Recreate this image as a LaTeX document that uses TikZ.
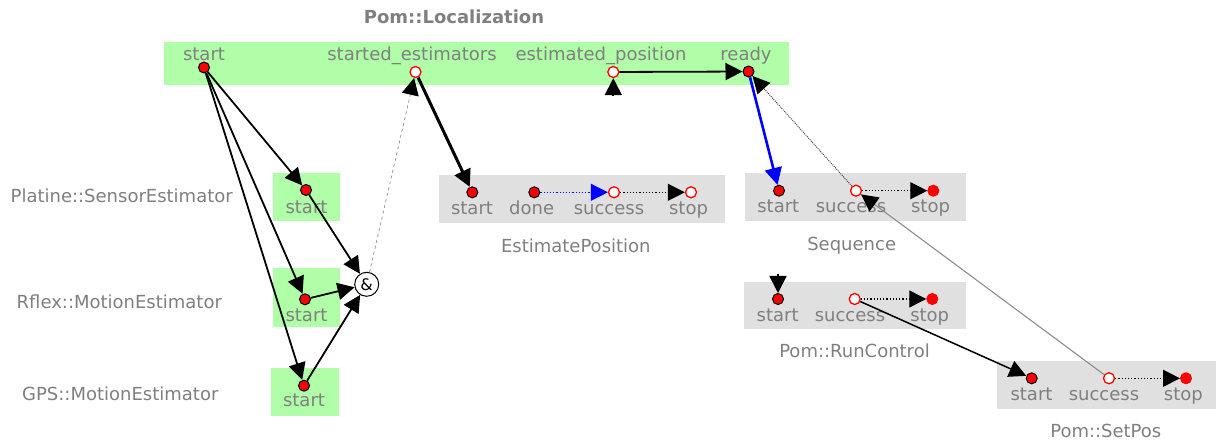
\documentclass[tikz,border=0pt]{standalone}
\usepackage{fontspec}
\setmainfont{DejaVu Sans}
\usetikzlibrary{arrows.meta}
\definecolor{txt}{HTML}{7F7F7F}
\definecolor{grn}{HTML}{B0FFA8}
\definecolor{gbox}{HTML}{E0E0E0}
\begin{document}
\begin{tikzpicture}[x=1pt,y=-1pt,
  lbl/.style={text=txt, font=\fontsize{18}{20}\selectfont, inner sep=0pt, anchor=base},
  ttl/.style={text=txt, font=\fontsize{18}{20}\selectfont\bfseries, inner sep=0pt, anchor=base},
  bx/.style={fill=#1, draw=none, inner sep=0pt},
  evr/.style={circle, fill=red, draw=black, line width=1pt, minimum size=11pt, inner sep=0pt},
  evw/.style={circle, fill=white, draw=red, line width=1.3pt, minimum size=11pt, inner sep=0pt},
  evs/.style={circle, fill=red, draw=red, line width=1pt, minimum size=11pt, inner sep=0pt},
  andnode/.style={circle, fill=white, draw=black, line width=1pt, minimum size=24pt, inner sep=0pt, font=\fontsize{16}{16}\selectfont},
  arr/.style={-{Triangle[length=17pt,width=17pt,color=black]}},
  ed/.style={arr, draw=black, line width=1.8pt},
  edthick/.style={arr, draw=black, line width=3pt},
  edblue/.style={-{Triangle[length=17pt,width=17pt,color=blue]}, draw=blue, line width=2.6pt},
  inner/.style={arr, draw=black, line width=1.1pt, dash pattern=on 1.2pt off 2pt},
  innerblue/.style={-{Triangle[length=17pt,width=17pt,color=blue]}, draw=blue, line width=1.1pt, dash pattern=on 1.2pt off 2pt},
  dashgray/.style={arr, draw=black!40, line width=0.8pt, dash pattern=on 3pt off 3pt},
  dotgray/.style={arr, draw=black!70, line width=1pt, dash pattern=on 1pt off 1pt},
  solidgray/.style={arr, draw=black!45, line width=1.1pt}
]
\useasboundingbox (0,0) rectangle (1216,443);

% boxes
\node[bx=grn, minimum width=625pt, minimum height=43pt] (locbox) at (476.5,63.5) {};
\node[bx=grn, minimum width=67pt, minimum height=48pt] (platbox) at (306.5,197) {};
\node[bx=grn, minimum width=67pt, minimum height=59pt] (rflexbox) at (306,297.8) {};
\node[bx=grn, minimum width=68pt, minimum height=48pt] (gpsbox) at (304.5,392) {};
\node[bx=gbox, minimum width=286pt, minimum height=47.7pt] (epbox) at (582,198.8) {};
\node[bx=gbox, minimum width=221pt, minimum height=48.3pt] (sqbox) at (855.5,196.9) {};
\node[bx=gbox, minimum width=222pt, minimum height=47.3pt] (rcbox) at (855,305.3) {};
\node[bx=gbox, minimum width=220pt, minimum height=48pt] (spbox) at (1107.3,385) {};

% titles and labels
\node[ttl] (loctitle) at (454,24) {Pom::Localization};
\node[lbl] (lsl) at (204,61) {start};
\node[lbl] (lsel) at (412,61) {started\_estimators};
\node[lbl] (lepl) at (601,61) {estimated\_position};
\node[lbl] (lrl) at (746,61) {ready};

\node[lbl] (platname) at (121.7,202.3) {Platine::SensorEstimator};
\node[lbl] (rflexname) at (119.3,309) {Rflex::MotionEstimator};
\node[lbl] (gpsname) at (120.3,400.7) {GPS::MotionEstimator};
\node[lbl] (psl) at (306.5,213.3) {start};
\node[lbl] (rsl) at (306.5,321.7) {start};
\node[lbl] (gsl) at (304,406.7) {start};

\node[lbl] (epsl) at (472,215) {start};
\node[lbl] (epdl) at (531.7,215) {done};
\node[lbl] (epsul) at (609,215) {success};
\node[lbl] (epstl) at (688.5,215) {stop};
\node[lbl] (epname) at (575.8,252.7) {EstimatePosition};

\node[lbl] (sqsl) at (778.3,212.7) {start};
\node[lbl] (sqsul) at (851,212.7) {success};
\node[lbl] (sqstl) at (930.5,212.7) {stop};
\node[lbl] (sqname) at (851.7,251) {Sequence};

\node[lbl] (rcsl) at (777.7,321.7) {start};
\node[lbl] (rcsul) at (850,321.7) {success};
\node[lbl] (rcstl) at (929.7,321.7) {stop};
\node[lbl] (rcname) at (854.5,357.3) {Pom::RunControl};

\node[lbl] (spsl) at (1031.5,400.7) {start};
\node[lbl] (spsul) at (1104,400.7) {success};
\node[lbl] (spstl) at (1183.3,400.7) {stop};
\node[lbl] (spname) at (1105.8,437.7) {Pom::SetPos};

% events
\node[evr] (ls) at (204,67.5) {};
\node[evw] (lse) at (415.5,72) {};
\node[evw] (lep) at (613.3,72) {};
\node[evr] (lr) at (748.5,71.5) {};

\node[evr] (ps) at (306,190) {};
\node[evr] (rs) at (305,299.3) {};
\node[evr] (gs) at (304,385.7) {};
\node[andnode] (and) at (366.7,284.3) {\&};

\node[evr] (eps) at (472.3,192.3) {};
\node[evr] (epd) at (534.3,192.3) {};
\node[evw] (epsu) at (614,192.3) {};
\node[evw] (epst) at (691,192.3) {};

\node[evr] (sqs) at (779,190.7) {};
\node[evw] (sqsu) at (856,190.7) {};
\node[evs] (sqst) at (933.3,190.7) {};

\node[evr] (rcs) at (778,299) {};
\node[evw] (rcsu) at (854.7,299) {};
\node[evs] (rcst) at (932.3,299) {};

\node[evr] (sps) at (1031.7,378.3) {};
\node[evw] (spsu) at (1109,378.3) {};
\node[evs] (spst) at (1186,378.3) {};

\coordinate (epsrc) at (613.3,96);
\coordinate (rcsrc) at (778,274);

% connectors
\draw[ed] (ls) -- (ps);
\draw[ed] (ls) -- (rs);
\draw[ed] (ls) -- (gs);
\draw[ed] (ps) -- (and);
\draw[ed] (rs) -- (and);
\draw[ed] (gs) -- (and);
\draw[dashgray] (and) -- (lse);
\draw[edthick] (lse) -- (eps);
\draw[ed] (epsrc) -- (lep);
\draw[ed] (lep) -- (lr);
\draw[edblue] (lr) -- (sqs);
\draw[dotgray] (sqsu) -- (lr);
\draw[solidgray] (spsu) -- (sqsu);
\draw[ed, line width=1.5pt] (rcsu) -- (sps);
\draw[ed] (rcsrc) -- (rcs);

\draw[innerblue] (epd) -- (epsu);
\draw[inner] (epsu) -- (epst);
\draw[inner] (sqsu) -- (sqst);
\draw[inner] (rcsu) -- (rcst);
\draw[inner] (spsu) -- (spst);
\end{tikzpicture}
\end{document}
